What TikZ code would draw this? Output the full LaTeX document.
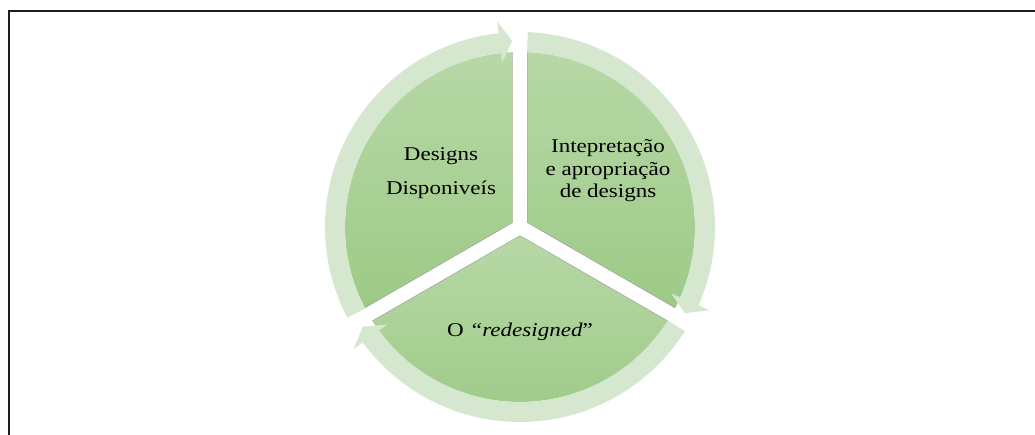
\documentclass[tikz,border=0pt]{standalone}
\usepackage{fontspec}
\setmainfont{Liberation Serif}[FakeStretch=1.18]
\usetikzlibrary{calc}
\definecolor{ringc}{HTML}{D6E7CF}
\definecolor{wtop}{HTML}{B7D8A6}
\definecolor{wbot}{HTML}{9DCA87}
\definecolor{framec}{HTML}{1E1E1E}
\tikzset{
  ringarrow/.style={fill=ringc},
  wedgefill/.style={top color=wtop, bottom color=wbot, draw=none},
  gapedge/.style={draw=black!40, line width=0.4pt},
  lbl/.style={font=\fontsize{19.5}{22.5}\selectfont, inner sep=0pt, anchor=base, text=black},
  framestyle/.style={draw=framec, line width=1.7pt},
}
\begin{document}
\begin{tikzpicture}[x=1pt,y=1pt]
\useasboundingbox (0,0) rectangle (1035,435);
\clip (0,0) rectangle (1035,435);
\fill[white] (0,0) rectangle (1035,435);
\coordinate (c) at (520,208);
\begin{scope}[shift={(c)}]
  % wedge corner coordinates
  \coordinate (lA) at (150:8.66pt);
  \coordinate (lS) at (207.544:175pt);
  \coordinate (lE) at (92.456:175pt);
  \coordinate (rA) at (30:8.66pt);
  \coordinate (rS) at (87.544:175pt);
  \coordinate (rE) at (-27.544:175pt);
  \coordinate (bA) at (270:8.66pt);
  \coordinate (bS) at (327.544:175pt);
  \coordinate (bE) at (212.456:175pt);
  % wedges
  \shade[wedgefill] (lA) -- (lS) arc[start angle=207.544, end angle=92.456, radius=175pt] -- cycle;
  \shade[wedgefill] (rA) -- (rS) arc[start angle=87.544, end angle=-27.544, radius=175pt] -- cycle;
  \shade[wedgefill] (bA) -- (bS) arc[start angle=327.544, end angle=212.456, radius=175pt] -- cycle;
  % thin edges along the gaps
  \draw[gapedge] (lS) -- (lA) -- (lE);
  \draw[gapedge] (rS) -- (rA) -- (rE);
  \draw[gapedge] (bS) -- (bA) -- (bE);
  % circular arrows
  \foreach \r in {0,120,240} {
    \fill[ringarrow, rotate=-\r] (207.7:195pt) arc[start angle=207.7, end angle=96.3, radius=195pt]
      -- (96.3:207pt) -- (92.4:186pt) -- (96.3:165pt) -- (96.3:175pt)
      arc[start angle=96.3, end angle=207.7, radius=175pt] -- cycle;
  }
\end{scope}
% labels
\node[lbl] (dd1) at (441,274.3) {Designs};
\node[lbl] (dd2) at (441,240) {Disponiveís};
\node[lbl] (ia1) at (608,282) {Intepretação};
\node[lbl] (ia2) at (608,259.5) {e apropriação};
\node[lbl] (ia3) at (608,237) {de designs};
\node[lbl] (rd) at (520,98) {O \textit{“redesigned}”};
% frame
\coordinate (fb) at (9,-10);
\coordinate (ftl) at (9,424);
\coordinate (ftr) at (1050,424);
\draw[framestyle] (fb) -- (ftl) -- (ftr);
\end{tikzpicture}
\end{document}
